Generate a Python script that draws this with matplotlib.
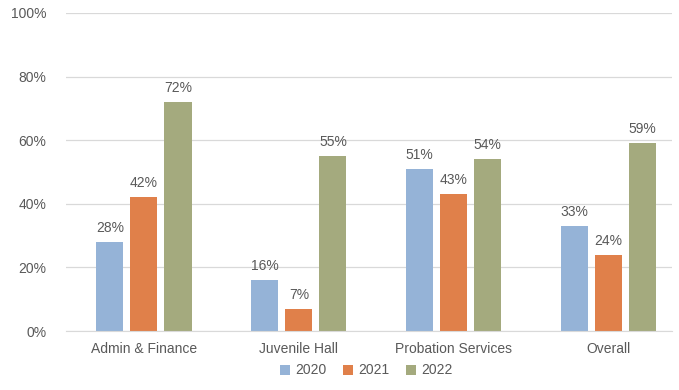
import matplotlib.pyplot as plt
import numpy as np

categories = ["Admin & Finance", "Juvenile Hall", "Probation Services", "Overall"]
years = ["2020", "2021", "2022"]
vals_2020 = [28, 16, 51, 33]
vals_2021 = [42, 7, 43, 24]
vals_2022 = [72, 55, 54, 59]

colors = ["#95B3D7", "#E0804A", "#A4AA7E"]
text_color = "#595959"

plt.rcParams["font.family"] = ["Liberation Sans", "DejaVu Sans"]

fig = plt.figure(figsize=(6.79, 3.90), dpi=100)
ax = fig.add_axes([0.097, 0.151, 0.893, 0.816])

x = np.arange(len(categories))
width = 0.175
step = 0.22
for i, (vals, year) in enumerate(zip([vals_2020, vals_2021, vals_2022], years)):
    bars = ax.bar(x + (i - 1) * step, vals, width, color=colors[i], label=year, zorder=2)
    for b, v in zip(bars, vals):
        ax.text(b.get_x() + b.get_width() / 2, v + 2.2, f"{v}%", ha="center", va="bottom",
                fontsize=10, color=text_color)

ax.set_xlim(-0.504, 3.41)
ax.set_ylim(0, 100)
ax.set_yticks(range(0, 101, 20))
ax.set_yticklabels([f"{t}%" for t in range(0, 101, 20)])
ax.set_xticks(x)
ax.set_xticklabels(categories)
ax.tick_params(axis="both", length=0, labelsize=10, colors=text_color)
ax.tick_params(axis="y", pad=14)
ax.tick_params(axis="x", pad=8)
ax.grid(axis="y", color="#D9D9D9", linewidth=0.9, zorder=0)
for s in ["top", "right", "left"]:
    ax.spines[s].set_visible(False)
ax.spines["bottom"].set_color("#D9D9D9")

fig.legend(loc="lower center", bbox_to_anchor=(0.54, 0.0), ncol=3, frameon=False,
           fontsize=10, labelcolor=text_color, handlelength=0.7, handleheight=0.7,
           handletextpad=0.4, columnspacing=1.2)

fig.savefig("out.png", dpi=100, facecolor="white")
